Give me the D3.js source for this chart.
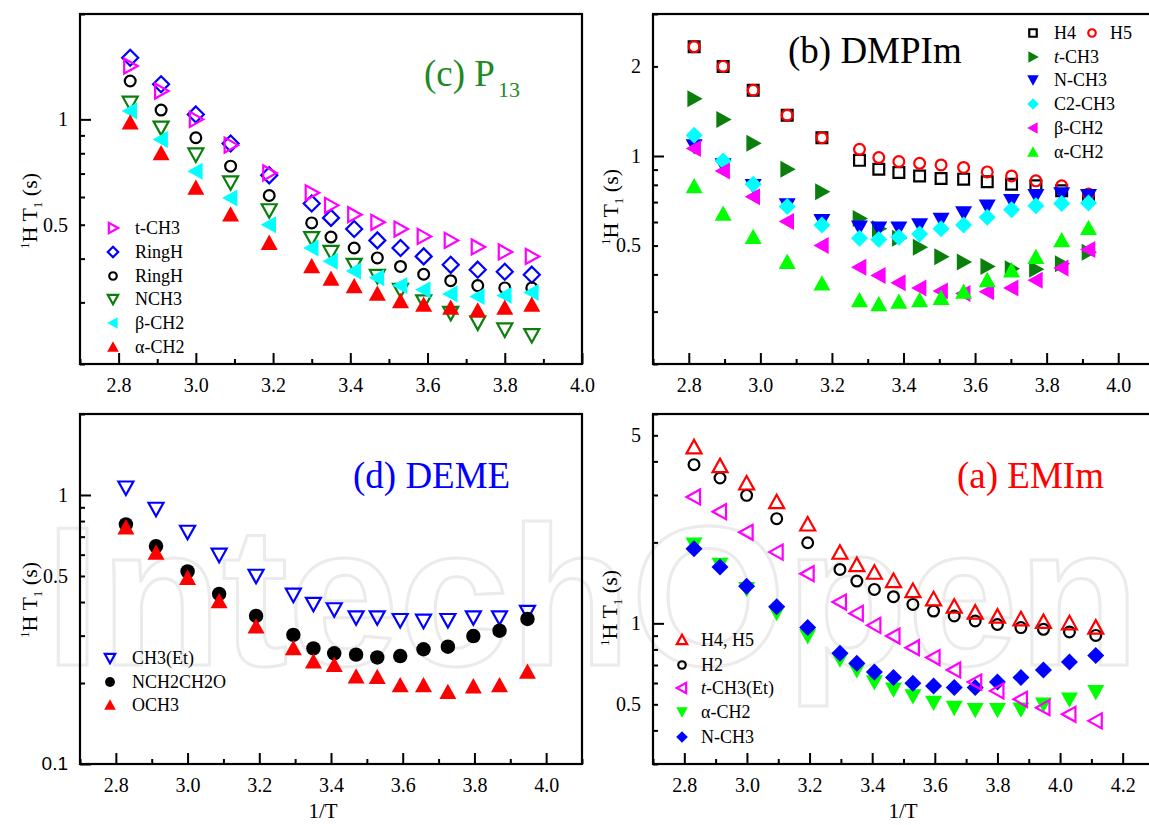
<!DOCTYPE html>
<html>
<head>
<meta charset="utf-8">
<script src="https://cdn.jsdelivr.net/npm/d3@7"></script>
<style>
  html, body { margin: 0; padding: 0; background: #fff; }
  svg { display: block; }
</style>
</head>
<body>
<script>
// ---------- data: 1H T1 relaxation times vs 1000/T ----------

// (c) P13
const xP13 = [2.83, 2.91, 3.00, 3.09, 3.19, 3.30, 3.35, 3.41, 3.47, 3.53, 3.59, 3.66, 3.73, 3.80, 3.87];
const p13_tCH3  = [1.42, 1.205, 1.0, 0.844, 0.703, 0.617, 0.568, 0.534, 0.508, 0.486, 0.463, 0.451, 0.432, 0.418, 0.406];
const p13_ringHd = [1.50, 1.26, 1.033, 0.853, 0.692, 0.575, 0.523, 0.486, 0.451, 0.429, 0.406, 0.384, 0.372, 0.367, 0.36];
const p13_ringHo = [1.287, 1.063, 0.886, 0.735, 0.606, 0.506, 0.461, 0.429, 0.402, 0.38, 0.361, 0.346, 0.335, 0.33, 0.33];
const p13_NCH3  = [1.116, 0.947, 0.794, 0.661, 0.55, 0.458, 0.418, 0.384, 0.357, 0.326, 0.302, 0.28, 0.263, 0.251, 0.242];
const p13_bCH2  = [1.056, 0.876, 0.711, 0.596, 0.5, 0.429, 0.393, 0.369, 0.353, 0.335, 0.326, 0.317, 0.312, 0.314, 0.32];
const p13_aCH2  = [0.978, 0.799, 0.637, 0.534, 0.443, 0.38, 0.35, 0.333, 0.317, 0.302, 0.295, 0.289, 0.284, 0.289, 0.295];

// (b) DMPIm
const xDMPIm = [2.815, 2.896, 2.980, 3.075, 3.172, 3.277, 3.331, 3.387, 3.445, 3.505, 3.568, 3.634, 3.702, 3.770, 3.842, 3.917];
const dmp_H4    = [2.33, 2.0, 1.663, 1.371, 1.152, 0.967, 0.903, 0.88, 0.857, 0.84, 0.836, 0.819, 0.804, 0.794, 0.764, 0.731];
const dmp_H5    = [2.33, 2.0, 1.663, 1.371, 1.152, 1.053, 0.988, 0.958, 0.945, 0.933, 0.915, 0.884, 0.857, 0.825, 0.794, 0.745];
const dmp_tCH3  = [1.556, 1.327, 1.103, 0.903, 0.758, 0.617, 0.569, 0.529, 0.494, 0.459, 0.44, 0.425, 0.418, 0.416, 0.434, 0.475];
const dmp_NCH3  = [1.08, 0.933, 0.794, 0.684, 0.606, 0.576, 0.572, 0.572, 0.586, 0.611, 0.643, 0.677, 0.707, 0.735, 0.745, 0.735];
const dmp_C2CH3 = [1.173, 0.962, 0.804, 0.677, 0.586, 0.529, 0.524, 0.533, 0.547, 0.569, 0.586, 0.622, 0.66, 0.68, 0.693, 0.695];
const dmp_bCH2  = [1.06, 0.891, 0.729, 0.602, 0.5, 0.423, 0.397, 0.375, 0.36, 0.352, 0.345, 0.35, 0.36, 0.382, 0.42, 0.485];
const dmp_aCH2  = [0.79, 0.638, 0.533, 0.44, 0.372, 0.327, 0.317, 0.323, 0.327, 0.333, 0.349, 0.382, 0.412, 0.457, 0.52, 0.572];

// (d) DEME
const xDEME = [2.828, 2.912, 3.000, 3.088, 3.191, 3.295, 3.351, 3.409, 3.470, 3.529, 3.593, 3.658, 3.726, 3.797, 3.870, 3.948];
const deme_CH3Et = [1.066, 0.889, 0.73, 0.6, 0.501, 0.426, 0.394, 0.376, 0.351, 0.351, 0.343, 0.341, 0.343, 0.351, 0.351, 0.368];
const deme_NCH2  = [0.777, 0.645, 0.52, 0.429, 0.355, 0.302, 0.269, 0.258, 0.255, 0.249, 0.252, 0.267, 0.273, 0.299, 0.313, 0.346];
const deme_OCH3  = [0.755, 0.609, 0.491, 0.402, 0.324, 0.269, 0.24, 0.233, 0.211, 0.21, 0.196, 0.196, 0.185, 0.194, 0.196, 0.22];

// (a) EMIm
const xEMIm = [2.831, 2.914, 2.999, 3.095, 3.194, 3.297, 3.351, 3.407, 3.468, 3.530, 3.596, 3.662, 3.729, 3.800, 3.875, 3.947, 4.030, 4.114];
const emi_H45   = [4.51, 3.84, 3.31, 2.82, 2.33, 1.83, 1.646, 1.542, 1.436, 1.318, 1.228, 1.153, 1.096, 1.059, 1.035, 1.012, 1.0, 0.964];
const emi_H2    = [3.89, 3.47, 2.99, 2.45, 1.993, 1.586, 1.436, 1.337, 1.256, 1.176, 1.111, 1.065, 1.02, 0.99, 0.964, 0.95, 0.929, 0.902];
const emi_tCH3  = [2.95, 2.6, 2.18, 1.84, 1.529, 1.2, 1.089, 0.983, 0.897, 0.812, 0.746, 0.671, 0.605, 0.561, 0.522, 0.486, 0.459, 0.434];
const emi_aCH2  = [1.965, 1.655, 1.345, 1.096, 0.897, 0.735, 0.671, 0.605, 0.569, 0.537, 0.508, 0.486, 0.477, 0.477, 0.479, 0.5, 0.522, 0.556];
const emi_NCH3  = [1.894, 1.618, 1.375, 1.153, 0.964, 0.774, 0.71, 0.66, 0.629, 0.599, 0.585, 0.577, 0.577, 0.605, 0.629, 0.671, 0.718, 0.76];

// tick labels
const xTicksShort = ["2.8", "3.0", "3.2", "3.4", "3.6", "3.8", "4.0"];
const xTicksLong  = ["2.8", "3.0", "3.2", "3.4", "3.6", "3.8", "4.0", "4.2"];

// ---------- drawing ----------
const W = 1149, H = 825;
const SERIF = "'Times New Roman', 'Liberation Serif', serif";
const SANS = "Arial, 'Liberation Sans', sans-serif";
const DKGREEN = "#0b7f0b";

const svg = d3.select("body").append("svg").attr("width", W).attr("height", H)
  .style("font-family", SERIF);

// faint publisher watermark behind everything
svg.append("text")
  .attr("x", 45).attr("y", 665)
  .attr("font-family", SANS).attr("font-size", 199).attr("font-weight", "bold")
  .attr("fill", "none").attr("stroke", "#ebebeb").attr("stroke-width", 3)
  .text("IntechOpen");

function shapePath(shape, s, filled) {
  switch (shape) {
    case "up":    return `M0,${-s}L${s},${0.8*s}L${-s},${0.8*s}Z`;
    case "down":  return `M0,${s}L${s},${-0.8*s}L${-s},${-0.8*s}Z`;
    case "right": return `M${s},0L${-0.8*s},${-s}L${-0.8*s},${s}Z`;
    case "left":  return `M${-s},0L${0.8*s},${-s}L${0.8*s},${s}Z`;
    case "diamond": return `M0,${-s}L${s},0L0,${s}L${-s},0Z`;
    case "square": { const h = 0.72 * s; return `M${-h},${-h}H${h}V${h}H${-h}Z`; }
    case "circle": {
      const r = (filled ? 0.85 : 0.72) * s;
      return `M${r},0A${r},${r} 0 1,1 ${-r},0A${r},${r} 0 1,1 ${r},0Z`;
    }
  }
}

function styleMarker(sel, m) {
  sel.attr("fill", m.filled ? m.color : "none")
     .attr("stroke", m.filled ? "none" : m.color)
     .attr("stroke-width", m.filled ? 0 : 2.2);
}

function drawPanel(cfg) {
  const g = svg.append("g");
  const x = d3.scaleLinear().domain(cfg.xDomain).range([cfg.left, cfg.right]);
  const y = d3.scaleLog().domain(cfg.yDomain).range([cfg.bottom, cfg.top]);

  // x axis: labelled major ticks and minor ticks, pointing inward
  const xMajor = cfg.xLabels.map(Number);
  const xMinor = d3.range(cfg.xDomain[0], cfg.xDomain[1] + 1e-9, 0.1)
    .map(v => +v.toFixed(2)).filter(v => !xMajor.some(m => Math.abs(m - v) < 1e-6));
  const gx = g.append("g").attr("transform", `translate(0,${cfg.bottom})`);
  gx.call(d3.axisBottom(x).tickValues(xMajor).tickSize(-11).tickPadding(14)
    .tickFormat((d, i) => cfg.xLabels[i]));
  gx.append("g").call(d3.axisBottom(x).tickValues(xMinor).tickSize(-5).tickFormat(""));
  gx.selectAll(".domain").remove();
  gx.selectAll("line").attr("stroke", "#000").attr("stroke-width", 2);
  gx.selectAll("text").attr("font-family", SERIF).attr("font-size", 20).attr("fill", "#000");

  // y axis (log): long ticks at decades, short ticks at 2..9 multiples
  const [y0, y1] = cfg.yDomain;
  const decades = [], minors = [];
  for (let e = Math.floor(Math.log10(y0)); e <= Math.ceil(Math.log10(y1)); e++) {
    const p = Math.pow(10, e);
    if (p >= y0 * 0.999 && p <= y1 * 1.001) decades.push(p);
    for (let k = 2; k <= 9; k++) {
      const v = +(k * p).toPrecision(3);
      if (v >= y0 * 0.999 && v <= y1 * 1.001) minors.push(v);
    }
  }
  const gy = g.append("g").attr("transform", `translate(${cfg.left},0)`);
  gy.append("g").call(d3.axisLeft(y).tickValues(minors).tickSize(-5).tickFormat(""));
  gy.append("g").call(d3.axisLeft(y).tickValues(decades).tickSize(-11).tickFormat(""));
  gy.selectAll(".domain").remove();
  gy.selectAll("line").attr("stroke", "#000").attr("stroke-width", 2);
  cfg.yLabels.forEach(lb => {
    gy.append("text")
      .attr("x", -12).attr("y", y(lb.v)).attr("dy", "0.34em")
      .attr("text-anchor", "end")
      .attr("font-family", lb.sans ? SANS : SERIF)
      .attr("font-size", lb.sans ? 19 : 20)
      .text(lb.t);
  });

  // frame
  g.append("rect")
    .attr("x", cfg.left).attr("y", cfg.top)
    .attr("width", cfg.right - cfg.left).attr("height", cfg.bottom - cfg.top)
    .attr("fill", "none").attr("stroke", "#000").attr("stroke-width", 2.2);

  // data markers
  const clipId = "clip-" + cfg.id;
  g.append("clipPath").attr("id", clipId).append("rect")
    .attr("x", cfg.left).attr("y", cfg.top)
    .attr("width", cfg.right - cfg.left).attr("height", cfg.bottom - cfg.top);
  const gd = g.append("g").attr("clip-path", `url(#${clipId})`);
  cfg.series.forEach(s => {
    const pts = cfg.xs.map((xv, i) => [xv, s.values[i]]);
    const size = s.filled ? 8.5 : (s.shape === "diamond" ? 8 : 7.5);
    gd.append("g").selectAll("path").data(pts).join("path")
      .attr("transform", d => `translate(${x(d[0])},${y(d[1])})`)
      .attr("d", shapePath(s.shape, size, s.filled))
      .call(styleMarker, s);
  });

  // legend
  cfg.legend.forEach(item => {
    const s = cfg.series.find(q => q.key === item.key);
    const ls = s.filled ? 5.8 : 5.2;
    g.append("path")
      .attr("transform", `translate(${item.mx},${item.y})`)
      .attr("d", shapePath(s.shape, ls, s.filled))
      .call(styleMarker, s);
    const t = g.append("text")
      .attr("x", item.tx).attr("y", item.y).attr("dy", "0.35em")
      .attr("font-family", SERIF).attr("font-size", 18);
    if (item.italicT) {
      t.append("tspan").attr("font-style", "italic").text("t");
      t.append("tspan").text(item.label.slice(1));
    } else {
      t.text(item.label);
    }
  });

  // y title: 1H T1 (s)
  const yt = g.append("text")
    .attr("transform", `translate(${cfg.ytx},${cfg.yty}) rotate(-90)`)
    .attr("text-anchor", "middle").attr("font-family", SERIF).attr("font-size", 22);
  yt.append("tspan").attr("font-size", 13).attr("dy", -8).text("1");
  yt.append("tspan").attr("dy", 8).text("H T");
  yt.append("tspan").attr("font-size", 13).attr("dy", 5).text("1");
  yt.append("tspan").attr("dy", -5).text(" (s)");

  // x title
  if (cfg.xTitle) {
    g.append("text").attr("x", cfg.xTitle.x).attr("y", cfg.xTitle.y)
      .attr("text-anchor", "middle").attr("font-family", SERIF).attr("font-size", 21)
      .text("1/T");
  }

  // panel caption
  const cap = g.append("text").attr("x", cfg.caption.x).attr("y", cfg.caption.y)
    .attr("font-family", SERIF).attr("font-size", 37).attr("fill", cfg.caption.color);
  cap.append("tspan").text(cfg.caption.text);
  if (cfg.caption.sub) {
    cap.append("tspan").attr("font-size", 22).attr("dy", 11).attr("dx", 3).text(cfg.caption.sub);
  }
}

// (c) P13 — top left
drawPanel({
  id: "c", left: 80, top: 14, right: 582, bottom: 364,
  xDomain: [2.7, 4.0], yDomain: [0.2, 2],
  xLabels: xTicksShort,
  yLabels: [{ v: 1, t: "1" }, { v: 0.5, t: "0.5" }],
  xs: xP13,
  series: [
    { key: "ringHd", values: p13_ringHd, shape: "diamond", color: "#0000ff", filled: false },
    { key: "tCH3", values: p13_tCH3, shape: "right", color: "#ff00ff", filled: false },
    { key: "ringHo", values: p13_ringHo, shape: "circle", color: "#000000", filled: false },
    { key: "NCH3", values: p13_NCH3, shape: "down", color: DKGREEN, filled: false },
    { key: "bCH2", values: p13_bCH2, shape: "left", color: "#00ffff", filled: true },
    { key: "aCH2", values: p13_aCH2, shape: "up", color: "#ff0000", filled: true }
  ],
  legend: [
    { key: "tCH3", label: "t-CH3", mx: 113, tx: 135, y: 228 },
    { key: "ringHd", label: "RingH", mx: 113, tx: 135, y: 252 },
    { key: "ringHo", label: "RingH", mx: 113, tx: 135, y: 276 },
    { key: "NCH3", label: "NCH3", mx: 113, tx: 135, y: 299 },
    { key: "bCH2", label: "β-CH2", mx: 113, tx: 135, y: 323 },
    { key: "aCH2", label: "α-CH2", mx: 113, tx: 135, y: 347 }
  ],
  ytx: 37, yty: 211,
  caption: { text: "(c) P", sub: "13", x: 424, y: 86, color: "#1f8a1f" }
});

// (b) DMPIm — top right
drawPanel({
  id: "b", left: 653, top: 14, right: 1154, bottom: 364,
  xDomain: [2.7, 4.1], yDomain: [0.2, 3],
  xLabels: xTicksShort,
  yLabels: [{ v: 2, t: "2" }, { v: 1, t: "1" }, { v: 0.5, t: "0.5" }],
  xs: xDMPIm,
  series: [
    { key: "H4", values: dmp_H4, shape: "square", color: "#000000", filled: false },
    { key: "H5", values: dmp_H5, shape: "circle", color: "#ff0000", filled: false },
    { key: "tCH3", values: dmp_tCH3, shape: "right", color: DKGREEN, filled: true },
    { key: "NCH3", values: dmp_NCH3, shape: "down", color: "#0000ff", filled: true },
    { key: "C2CH3", values: dmp_C2CH3, shape: "diamond", color: "#00ffff", filled: true },
    { key: "bCH2", values: dmp_bCH2, shape: "left", color: "#ff00ff", filled: true },
    { key: "aCH2", values: dmp_aCH2, shape: "up", color: "#00ff00", filled: true }
  ],
  legend: [
    { key: "H4", label: "H4", mx: 1033, tx: 1054, y: 33 },
    { key: "H5", label: "H5", mx: 1092, tx: 1110, y: 33 },
    { key: "tCH3", label: "t-CH3", italicT: true, mx: 1033, tx: 1054, y: 57 },
    { key: "NCH3", label: "N-CH3", mx: 1033, tx: 1054, y: 80 },
    { key: "C2CH3", label: "C2-CH3", mx: 1033, tx: 1054, y: 104 },
    { key: "bCH2", label: "β-CH2", mx: 1033, tx: 1054, y: 128 },
    { key: "aCH2", label: "α-CH2", mx: 1033, tx: 1054, y: 152 }
  ],
  ytx: 618, yty: 207,
  caption: { text: "(b) DMPIm", x: 788, y: 63, color: "#000000" }
});

// (d) DEME — bottom left
drawPanel({
  id: "d", left: 80, top: 414, right: 582, bottom: 764,
  xDomain: [2.7, 4.1], yDomain: [0.1, 2],
  xLabels: xTicksShort,
  yLabels: [{ v: 1, t: "1" }, { v: 0.5, t: "0.5" }, { v: 0.1, t: "0.1", sans: true }],
  xs: xDEME,
  series: [
    { key: "CH3Et", values: deme_CH3Et, shape: "down", color: "#0000ff", filled: false },
    { key: "NCH2", values: deme_NCH2, shape: "circle", color: "#000000", filled: true },
    { key: "OCH3", values: deme_OCH3, shape: "up", color: "#ff0000", filled: true }
  ],
  legend: [
    { key: "CH3Et", label: "CH3(Et)", mx: 110, tx: 132, y: 658 },
    { key: "NCH2", label: "NCH2CH2O", mx: 110, tx: 132, y: 682 },
    { key: "OCH3", label: "OCH3", mx: 110, tx: 132, y: 705 }
  ],
  ytx: 37, yty: 600,
  xTitle: { x: 323, y: 818 },
  caption: { text: "(d) DEME", x: 353, y: 488, color: "#0000ff" }
});

// (a) EMIm — bottom right
drawPanel({
  id: "a", left: 653, top: 414, right: 1154, bottom: 764,
  xDomain: [2.7, 4.3], yDomain: [0.3, 6],
  xLabels: xTicksLong,
  yLabels: [{ v: 5, t: "5" }, { v: 1, t: "1" }, { v: 0.5, t: "0.5" }],
  xs: xEMIm,
  series: [
    { key: "H2", values: emi_H2, shape: "circle", color: "#000000", filled: false },
    { key: "H45", values: emi_H45, shape: "up", color: "#ff0000", filled: false },
    { key: "aCH2", values: emi_aCH2, shape: "down", color: "#00ff00", filled: true },
    { key: "NCH3", values: emi_NCH3, shape: "diamond", color: "#0000ff", filled: true },
    { key: "tCH3", values: emi_tCH3, shape: "left", color: "#ff00ff", filled: false }
  ],
  legend: [
    { key: "H45", label: "H4, H5", mx: 682, tx: 701, y: 640 },
    { key: "H2", label: "H2", mx: 682, tx: 701, y: 665 },
    { key: "tCH3", label: "t-CH3(Et)", italicT: true, mx: 682, tx: 701, y: 688 },
    { key: "aCH2", label: "α-CH2", mx: 682, tx: 701, y: 712 },
    { key: "NCH3", label: "N-CH3", mx: 682, tx: 701, y: 737 }
  ],
  ytx: 617, yty: 608,
  xTitle: { x: 903, y: 818 },
  caption: { text: "(a) EMIm", x: 957, y: 488, color: "#ff0000" }
});
</script>
</body>
</html>
